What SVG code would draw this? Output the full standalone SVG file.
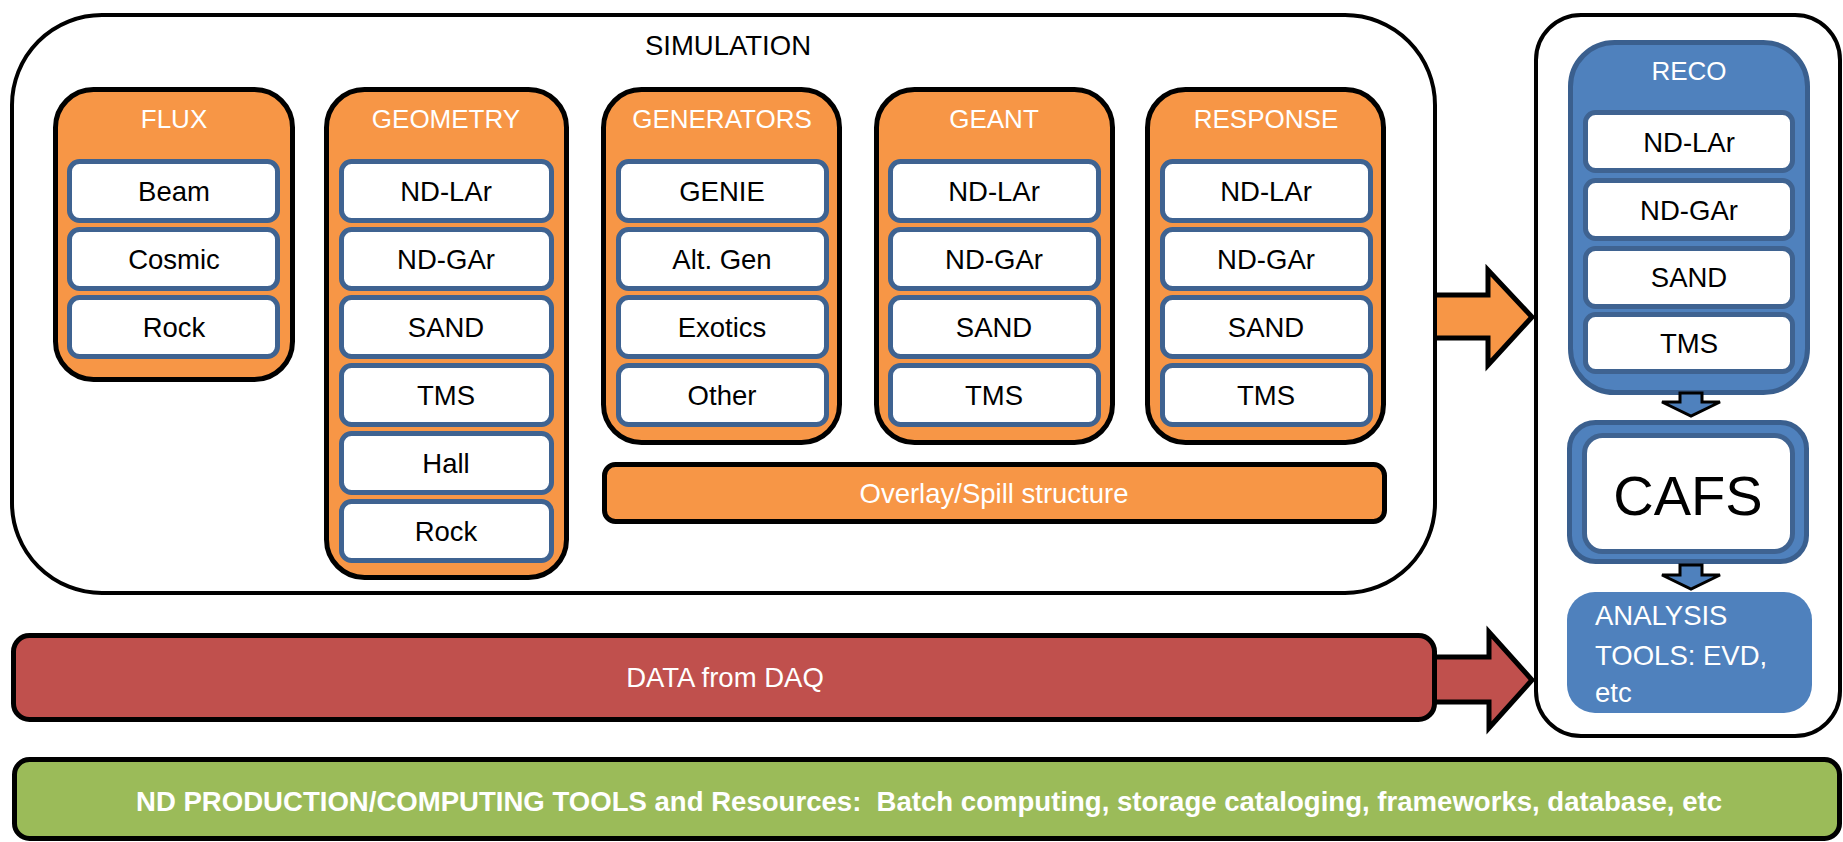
<svg xmlns="http://www.w3.org/2000/svg" width="1843" height="842" viewBox="0 0 1843 842">
  <style>
    text { font-family: "Liberation Sans", Arial, sans-serif; }
    .frame { fill: #ffffff; stroke: #000000; stroke-width: 4; }
    .col { fill: #F79646; stroke: #000000; stroke-width: 5; }
    .item { fill: #ffffff; stroke: #3F6391; stroke-width: 5; }
    .head { fill: #ffffff; font-size: 26px; text-anchor: middle; }
    .lbl { fill: #000000; font-size: 27.5px; text-anchor: middle; }
    .blue { fill: #4F81BD; stroke: #3A5F8E; stroke-width: 5; }
    .down { fill: #4F81BD; stroke: #000000; stroke-width: 3; stroke-linejoin: miter; }
    .wtxt { fill: #ffffff; font-size: 27.5px; }
  </style>

  <!-- outer frames -->
  <g id="simulation">
    <rect class="frame" x="12" y="15" width="1423" height="578" rx="90"/>
    <text class="lbl" x="728" y="55">SIMULATION</text>
  </g>
  <g id="reco-frame">
    <rect class="frame" x="1536" y="15" width="304" height="721" rx="45"/>
  </g>

  <!-- simulation stages -->
  <g id="flux">
    <rect class="col" x="55.5" y="89.5" width="237" height="290" rx="38"/>
    <text class="head" x="174" y="128">FLUX</text>
    <rect class="item" x="69.5" y="161.5" width="208" height="59" rx="10"/>
    <text class="lbl" x="174" y="201">Beam</text>
    <rect class="item" x="69.5" y="229.5" width="208" height="59" rx="10"/>
    <text class="lbl" x="174" y="269">Cosmic</text>
    <rect class="item" x="69.5" y="297.5" width="208" height="59" rx="10"/>
    <text class="lbl" x="174" y="337">Rock</text>
  </g>

  <g id="geometry">
    <rect class="col" x="326.5" y="89.5" width="240" height="488" rx="38"/>
    <text class="head" x="446" y="128">GEOMETRY</text>
    <rect class="item" x="341.5" y="161.5" width="210" height="59" rx="10"/>
    <text class="lbl" x="446" y="201">ND-LAr</text>
    <rect class="item" x="341.5" y="229.5" width="210" height="59" rx="10"/>
    <text class="lbl" x="446" y="269">ND-GAr</text>
    <rect class="item" x="341.5" y="297.5" width="210" height="59" rx="10"/>
    <text class="lbl" x="446" y="337">SAND</text>
    <rect class="item" x="341.5" y="365.5" width="210" height="59" rx="10"/>
    <text class="lbl" x="446" y="405">TMS</text>
    <rect class="item" x="341.5" y="433.5" width="210" height="59" rx="10"/>
    <text class="lbl" x="446" y="473">Hall</text>
    <rect class="item" x="341.5" y="501.5" width="210" height="59" rx="10"/>
    <text class="lbl" x="446" y="541">Rock</text>
  </g>

  <g id="generators">
    <rect class="col" x="603.5" y="89.5" width="236" height="353" rx="38"/>
    <text class="head" x="722" y="128">GENERATORS</text>
    <rect class="item" x="618.5" y="161.5" width="208" height="59" rx="10"/>
    <text class="lbl" x="722" y="201">GENIE</text>
    <rect class="item" x="618.5" y="229.5" width="208" height="59" rx="10"/>
    <text class="lbl" x="722" y="269">Alt. Gen</text>
    <rect class="item" x="618.5" y="297.5" width="208" height="59" rx="10"/>
    <text class="lbl" x="722" y="337">Exotics</text>
    <rect class="item" x="618.5" y="365.5" width="208" height="59" rx="10"/>
    <text class="lbl" x="722" y="405">Other</text>
  </g>

  <g id="geant">
    <rect class="col" x="876.5" y="89.5" width="236" height="353" rx="38"/>
    <text class="head" x="994" y="128">GEANT</text>
    <rect class="item" x="890.5" y="161.5" width="208" height="59" rx="10"/>
    <text class="lbl" x="994" y="201">ND-LAr</text>
    <rect class="item" x="890.5" y="229.5" width="208" height="59" rx="10"/>
    <text class="lbl" x="994" y="269">ND-GAr</text>
    <rect class="item" x="890.5" y="297.5" width="208" height="59" rx="10"/>
    <text class="lbl" x="994" y="337">SAND</text>
    <rect class="item" x="890.5" y="365.5" width="208" height="59" rx="10"/>
    <text class="lbl" x="994" y="405">TMS</text>
  </g>

  <g id="response">
    <rect class="col" x="1147.5" y="89.5" width="236" height="353" rx="38"/>
    <text class="head" x="1266" y="128">RESPONSE</text>
    <rect class="item" x="1162.5" y="161.5" width="208" height="59" rx="10"/>
    <text class="lbl" x="1266" y="201">ND-LAr</text>
    <rect class="item" x="1162.5" y="229.5" width="208" height="59" rx="10"/>
    <text class="lbl" x="1266" y="269">ND-GAr</text>
    <rect class="item" x="1162.5" y="297.5" width="208" height="59" rx="10"/>
    <text class="lbl" x="1266" y="337">SAND</text>
    <rect class="item" x="1162.5" y="365.5" width="208" height="59" rx="10"/>
    <text class="lbl" x="1266" y="405">TMS</text>
  </g>

  <g id="overlay">
    <rect class="col" x="604.5" y="464.5" width="780" height="57" rx="11"/>
    <text class="wtxt" x="994" y="503" text-anchor="middle">Overlay/Spill structure</text>
  </g>

  <!-- reconstruction chain -->
  <g id="reco">
    <rect class="blue" x="1570.5" y="42.5" width="237" height="350" rx="44"/>
    <text class="head" x="1689" y="80">RECO</text>
    <rect class="item" x="1585.5" y="112.5" width="207" height="58" rx="10"/>
    <text class="lbl" x="1689" y="152">ND-LAr</text>
    <rect class="item" x="1585.5" y="180.5" width="207" height="58" rx="10"/>
    <text class="lbl" x="1689" y="220">ND-GAr</text>
    <rect class="item" x="1585.5" y="248.5" width="207" height="58" rx="10"/>
    <text class="lbl" x="1689" y="287">SAND</text>
    <rect class="item" x="1585.5" y="314.5" width="207" height="57" rx="10"/>
    <text class="lbl" x="1689" y="353">TMS</text>
  </g>

  <g id="cafs">
    <rect class="blue" x="1569.5" y="422.5" width="237" height="139" rx="26"/>
    <rect class="item" x="1584.5" y="435.5" width="208" height="116" rx="18"/>
    <text x="1688" y="515" font-size="56" text-anchor="middle" fill="#000000">CAFS</text>
  </g>

  <g id="analysis">
    <rect x="1567" y="592" width="245" height="121" rx="28" fill="#4F81BD"/>
    <text class="wtxt" x="1595" y="625">ANALYSIS</text>
    <text class="wtxt" x="1595" y="665">TOOLS: EVD,</text>
    <text class="wtxt" x="1595" y="702">etc</text>
  </g>

  <!-- data input -->
  <g id="data">
    <path d="M1434,657 H1489 V632 L1532,680 L1489,728 V702 H1434" fill="#C0504D" stroke="#000000" stroke-width="5"/>
    <rect x="13.5" y="635.5" width="1421" height="84" rx="16" fill="#C0504D" stroke="#000000" stroke-width="5"/>
    <text class="wtxt" x="725" y="687" text-anchor="middle">DATA from DAQ</text>
  </g>

  <!-- shared infrastructure -->
  <g id="computing">
    <rect x="14.5" y="759.5" width="1825" height="79" rx="15" fill="#9BBB59" stroke="#000000" stroke-width="5"/>
    <text x="929" y="811" font-size="28" font-weight="bold" fill="#ffffff" text-anchor="middle" textLength="1586" lengthAdjust="spacingAndGlyphs" xml:space="preserve">ND PRODUCTION/COMPUTING TOOLS and Resources:  Batch computing, storage cataloging, frameworks, database, etc</text>
  </g>

  <!-- connectors -->
  <g id="connectors">
    <path d="M1437,295 H1488 V270 L1532,317 L1488,365 V338 H1437" fill="#F79646" stroke="#000000" stroke-width="5"/>
    <polygon class="down" points="1680,393 1702,393 1702,402 1720,402 1691,416 1662,402 1680,402"/>
    <polygon class="down" points="1680,565 1702,565 1702,575 1720,575 1691,589 1662,575 1680,575"/>
  </g>
</svg>
